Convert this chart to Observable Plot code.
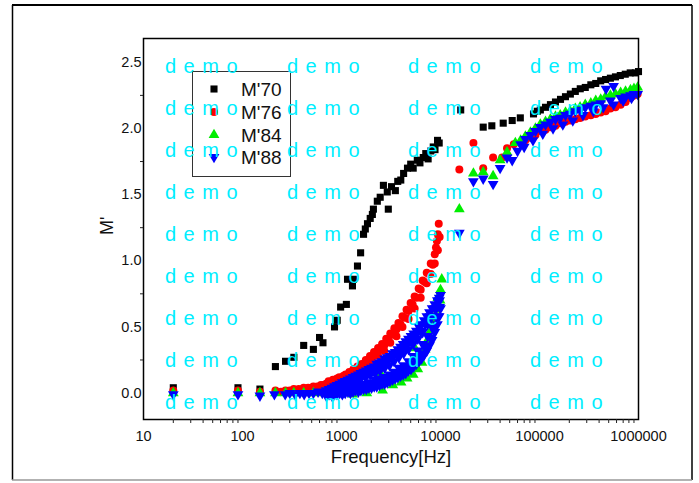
<!DOCTYPE html>
<html><head><meta charset="utf-8">
<script src="https://cdn.jsdelivr.net/npm/d3@7"></script>
<script src="https://cdn.jsdelivr.net/npm/@observablehq/plot@0.6"></script>
<style>
body{margin:0;background:#fff;}
#chart{width:699px;height:483px;}
svg{font-family:"Liberation Sans",Arial,sans-serif;}
</style></head><body><div id="chart"></div>
<script>
const xTicks = [10,100,1000,10000,100000,1000000];
const yTicks = [0,0.5,1,1.5,2,2.5];
const yMinorTicks = [0.25,0.75,1.25,1.75,2.25];
const seriesNames = ["M'70","M'76","M'84","M'88"];
const xLabel = "Frequency[Hz]";
const yLabel = "M'";
const watermark = "demo";

const m70 = [
[20,0.04],[90,0.04],[150,0.03],
[215,0.20],[272,0.24],[330,0.27],[415,0.36],[520,0.33],[600,0.42],[650,0.38],[850,0.50],[905,0.55],[980,0.65],[1120,0.67],[1150,0.86],[1290,0.81],[1320,0.86],[1450,0.96],[1560,1.06],[1670,1.20],[1740,1.24],[1830,1.28],[1950,1.32],[2050,1.35],[2100,1.39],[2300,1.45],[2460,1.48],[2650,1.57],[2900,1.52],[2970,1.39],[3200,1.56],[3500,1.53],[3700,1.60],[3970,1.61],[4240,1.66],[4640,1.70],[5000,1.73],[5300,1.70],[5830,1.76],[6200,1.74],[6700,1.78],[7100,1.81],[7500,1.77],[8000,1.83],[8450,1.86],[8800,1.84],[9330,1.91],[9700,1.89],
[16000,2.14],[27000,2.01],[33000,2.02],[43000,2.04],[53000,2.06],[64000,2.08],
[87000,2.11],[95000,2.13],[102000,2.14],[115000,2.16],[129000,2.18],[145000,2.20],[163000,2.22],[183000,2.24],[205000,2.26],[230000,2.28],[258000,2.30],[290000,2.31],[330000,2.33],[370000,2.34],[415000,2.36],[465000,2.37],[520000,2.38],[585000,2.39],[655000,2.40],[735000,2.41],[825000,2.42],[930000,2.42],[1000000,2.43]
];
const m76 = [
[20,0.02],[90,0.02],[150,0.01],[215,0.02],[245,0.01],[272,0.02],[300,0.02],[330,0.03],[370,0.03],[415,0.04],[460,0.04],[520,0.05],[570,0.05],[620,0.06],[660,0.06],
[700,0.07],[740,0.09],[780,0.08],[820,0.10],[860,0.09],[900,0.11],[950,0.12],[1000,0.11],[1050,0.13],[1100,0.14],[1150,0.13],[1200,0.16],[1260,0.15],[1320,0.18],[1380,0.17],[1450,0.20],[1520,0.19],[1600,0.22],[1680,0.21],[1760,0.25],[1850,0.24],[1940,0.28],[2030,0.27],[2130,0.31],[2230,0.30],[2340,0.34],[2450,0.33],[2570,0.37],[2700,0.36],[2830,0.41],[2970,0.40],[3110,0.45],[3260,0.44],[3420,0.49],[3590,0.48],[3760,0.53],[3940,0.52],[4130,0.58],[4330,0.57],[4540,0.63],[4760,0.62],[4990,0.68],[5230,0.67],[5480,0.73],[5740,0.72],[6020,0.79],[6310,0.78],[6610,0.85],[6930,0.84],[7260,0.91],[7610,0.90],[7970,0.98],[8350,0.97],[8750,1.05],[9000,1.10],[9200,1.15],[9400,1.20],[9600,1.28],
[1000,0.08],[1150,0.10],[1320,0.13],[1520,0.16],[1760,0.20],[2030,0.24],[2340,0.28],[2700,0.32],[3110,0.38],[3590,0.43],[4130,0.50],[4760,0.56],[5480,0.64],[6310,0.72],[7260,0.83],[7970,0.90],[8750,0.98],[9400,1.08],[9800,1.18],
[15500,1.69],[21500,1.89],[27000,1.70],[34000,1.78],[42000,1.78],[47000,1.85],[55000,1.88],[64500,1.89],[72000,1.91],[81000,1.93],[91000,1.95],[102000,1.98],[115000,1.99],[129000,2.01],[145000,2.02],[162000,2.04],[183000,2.05],[204000,2.06],[230000,2.07],[257000,2.08],[290000,2.09],[330000,2.10],[370000,2.11],[415000,2.12],[465000,2.13],[520000,2.15],[585000,2.16],[660000,2.18],[740000,2.20],[830000,2.23],[900000,2.25],[980000,2.26]
];
const m84 = [
[20,0.00],[90,0.00],[150,0.00],[215,0.00],[272,0.00],[330,0.00],[415,0.00],[520,0.00],[650,0.00],
[1300,-0.01],[1800,0.00],[2460,0.15],[2600,0.02],[3300,0.06],[4000,0.08],[4600,0.11],[5300,0.14],[5500,0.34],[5900,0.18],[6500,0.23],[7000,0.33],[7400,0.40],[7900,0.47],[8400,0.55],[8900,0.63],[9400,0.72],[9900,0.70],[10000,0.78],[10300,0.86],
[15500,1.39],[21500,1.66],[27000,1.67],[34000,1.64],[40000,1.76],[47000,1.82],[57000,1.89],[64500,1.91],[72000,1.94],[81000,1.97],[91000,2.00],[102000,2.03],[115000,2.05],[129000,2.07],[145000,2.09],[162000,2.10],[183000,2.12],[204000,2.13],[230000,2.15],[257000,2.16],[290000,2.18],[330000,2.19],[370000,2.21],[415000,2.22],[465000,2.24],[520000,2.25],[585000,2.26],[660000,2.27],[740000,2.28],[830000,2.29],[900000,2.30],[980000,2.31]
];
const m88 = [
[20,-0.01],[90,-0.01],[150,-0.02],[210,-0.01],[270,-0.01],[300,0.00],[340,-0.01],[380,0.00],[420,-0.01],[470,0.00],[520,0.00],[580,0.01],[640,0.00],
[700,0.02],[750,0.03],[800,0.04],[850,0.05],[900,0.06],[960,0.07],[1020,0.08],[1090,0.09],[1160,0.10],[1230,0.11],[1310,0.12],[1390,0.13],[1480,0.14],[1570,0.15],[1670,0.16],[1780,0.17],[1890,0.18],[2010,0.19],[2140,0.20],[2270,0.22],[2420,0.23],[2570,0.24],[2730,0.26],[2900,0.27],[3090,0.28],[3280,0.30],[3490,0.31],[3710,0.33],[3950,0.35],[4200,0.37],[4460,0.39],[4740,0.41],[5040,0.43],[5360,0.45],[5700,0.47],[6060,0.50],[6440,0.52],[6850,0.55],[7280,0.58],[7740,0.61],[8230,0.64],[8750,0.67],[9300,0.70],[9700,0.72],[10000,0.74],
[850,0.04],[960,0.06],[1080,0.08],[1200,0.09],[1330,0.10],[1480,0.12],[1650,0.14],[1850,0.15],[2060,0.17],[2300,0.19],[2580,0.21],[2880,0.23],[3220,0.26],[3600,0.29],[4020,0.32],[4500,0.35],[5030,0.39],[5620,0.43],[6280,0.47],[7020,0.52],[7850,0.58],[8750,0.64],[9500,0.69],
[800,0.03],[900,0.04],[1000,0.05],[1120,0.07],[1250,0.08],[1400,0.09],[1560,0.11],[1750,0.12],[1950,0.14],[2180,0.15],[2440,0.17],[2730,0.19],[3050,0.21],[3400,0.24],[3800,0.27],[4250,0.30],[4750,0.33],[5300,0.37],[5900,0.41],[6600,0.46],[7400,0.52],[8200,0.58],[9100,0.64],[9800,0.70],
[800,0.00],[900,0.01],[1000,0.02],[1120,0.03],[1250,0.04],[1400,0.05],[1560,0.06],[1750,0.07],[1950,0.08],[2180,0.10],[2440,0.11],[2730,0.12],[3050,0.14],[3400,0.16],[3800,0.19],[4250,0.21],[4750,0.24],[5300,0.28],[5900,0.32],[6600,0.37],[7400,0.43],[8200,0.50],[9100,0.57],[9800,0.65],
[850,0.00],[960,0.01],[1080,0.01],[1200,0.02],[1330,0.03],[1480,0.03],[1650,0.05],[1850,0.06],[2060,0.07],[2300,0.08],[2580,0.09],[2880,0.11],[3220,0.13],[3600,0.15],[4020,0.17],[4500,0.19],[5030,0.22],[5620,0.26],[6280,0.30],[7020,0.35],[7850,0.42],[8750,0.50],[9500,0.58],
[700,-0.02],[750,-0.01],[800,-0.02],[850,-0.01],[900,-0.01],[960,0.00],[1020,-0.01],[1090,0.00],[1160,0.01],[1230,0.00],[1310,0.01],[1390,0.02],[1480,0.01],[1570,0.02],[1670,0.03],[1780,0.03],[1890,0.04],[2010,0.04],[2140,0.05],[2270,0.05],[2420,0.06],[2570,0.07],[2730,0.07],[2900,0.08],[3090,0.09],[3280,0.10],[3490,0.11],[3710,0.12],[3950,0.13],[4200,0.14],[4460,0.15],[4740,0.17],[5040,0.18],[5360,0.20],[5700,0.22],[6060,0.24],[6440,0.26],[6850,0.29],[7280,0.32],[7740,0.36],[8230,0.40],[8750,0.46],[9300,0.52],[9700,0.58],[10000,0.64],
[15500,1.21],[21500,1.60],[27000,1.62],[34000,1.58],[40000,1.70],[47000,1.78],[53000,1.76],[60000,1.83],[64500,1.88],[72000,1.92],[81000,1.95],[91000,1.98],[102000,2.01],[115000,2.03],[129000,2.05],[145000,2.07],[162000,2.08],[183000,2.10],[204000,2.11],[230000,2.13],[257000,2.14],[290000,2.16],[330000,2.17],[370000,2.18],[415000,2.19],[470000,2.30],[520000,2.21],[560000,2.32],[660000,2.23],[740000,2.24],[830000,2.25],[900000,2.26],[980000,2.26],
[70000,1.86],[86000,1.91],[108000,1.96],[137000,2.00],[172000,2.03],[217000,2.06],[275000,2.10],[350000,2.13],[440000,2.16],[560000,2.18],[700000,2.21],[850000,2.23]
];

const colors = ["#000000","#ff0000","#00ee00","#0000ff"];
const triangleDown = {draw(context, size){
  const s3 = Math.sqrt(3);
  const y = -Math.sqrt(size/(s3*3));
  context.moveTo(0, -y*2); context.lineTo(-s3*y, y); context.lineTo(s3*y, y); context.closePath();
}};
const symbols = ["square","circle","triangle",triangleDown];
const seriesData = [m70, m76, m84, m88];

const xMinor = [];
for (const d of xTicks.slice(0,-1)) for (let k=2;k<=9;k++) xMinor.push(d*k);

const dotMarks = seriesData.map((arr,i) => Plot.dot(arr, {x: d=>d[0], y: d=>d[1], symbol: symbols[i], fill: colors[i], stroke: "none", r: 4}));

const plot = Plot.plot({
  width: 699, height: 483,
  marginLeft: 143, marginRight: 61, marginTop: 38, marginBottom: 64,
  x: {type: "log", domain: [10, 1000000]},
  y: {domain: [-0.2, 2.68]},
  style: {fontFamily: '"Liberation Sans", Arial, sans-serif', background: "white", color: "#111"},
  marks: [
    ...dotMarks,
    Plot.frame({stroke: "black", strokeWidth: 1.5}),
    Plot.axisX({ticks: xTicks, tickSize: 0, tickPadding: 11, tickFormat: d => String(d), fontSize: 14.5, label: null}),
    Plot.axisX({ticks: xMinor, tickSize: 4, fill: "none", label: null, stroke: "#222"}),
    Plot.axisY({ticks: yTicks, tickSize: 0, tickPadding: 2, tickFormat: d => d.toFixed(1), fontSize: 14.5, label: null}),
    Plot.axisY({ticks: yMinorTicks, tickSize: 3, fill: "none", label: null, stroke: "#222"}),
    Plot.text([xLabel], {text: d => d, frameAnchor: "bottom", dy: 38, fontSize: 18.5, lineAnchor: "middle"}),
    Plot.text([yLabel], {text: d => d, frameAnchor: "left", dx: -36, dy: 6, rotate: -90, fontSize: 18, lineAnchor: "middle"})
  ]
});
document.getElementById("chart").appendChild(plot);

const svg = d3.select(plot);
// outer border
const border = svg.append("g");
border.append("line").attr("x1",12).attr("x2",692).attr("y1",5).attr("y2",5).attr("stroke","black").attr("stroke-width",2);
border.append("line").attr("x1",12.5).attr("x2",12.5).attr("y1",5).attr("y2",480).attr("stroke","black").attr("stroke-width",1.5);
border.append("line").attr("x1",692).attr("x2",692).attr("y1",5).attr("y2",480).attr("stroke","black").attr("stroke-width",1.5);
border.append("line").attr("x1",12).attr("x2",692).attr("y1",480).attr("y2",480).attr("stroke","#999").attr("stroke-width",1.5);

// legend
const lg = svg.append("g").attr("text-anchor","start");
lg.append("rect").attr("x",192.5).attr("y",71.5).attr("width",98).attr("height",105).attr("fill","white").attr("stroke","#333").attr("stroke-width",1);
const legendY = [89,112,135,157];
const d3Types = [d3.symbolSquare, d3.symbolCircle, d3.symbolTriangle, triangleDown];
seriesNames.forEach((name,i) => {
  lg.append("path").attr("d", d3.symbol().type(d3Types[i]).size(16*Math.PI)()).attr("transform",`translate(214,${legendY[i]})`).attr("fill",colors[i]);
  lg.append("text").attr("x",241).attr("y",legendY[i]).attr("dy","0.35em").attr("font-size",19).attr("fill","#111").text(name);
});

// watermark
const wmCols = [165,287,408,530];
const wmRows = [73,115,157,199,241,283,325,367,409];
const wm = svg.append("g").attr("text-anchor","start").attr("fill","#00eeff").attr("font-size",20).style("letter-spacing","7.5px");
for (const y of wmRows) for (const x of wmCols) wm.append("text").attr("x",x).attr("y",y).text(watermark);
</script></body></html>
